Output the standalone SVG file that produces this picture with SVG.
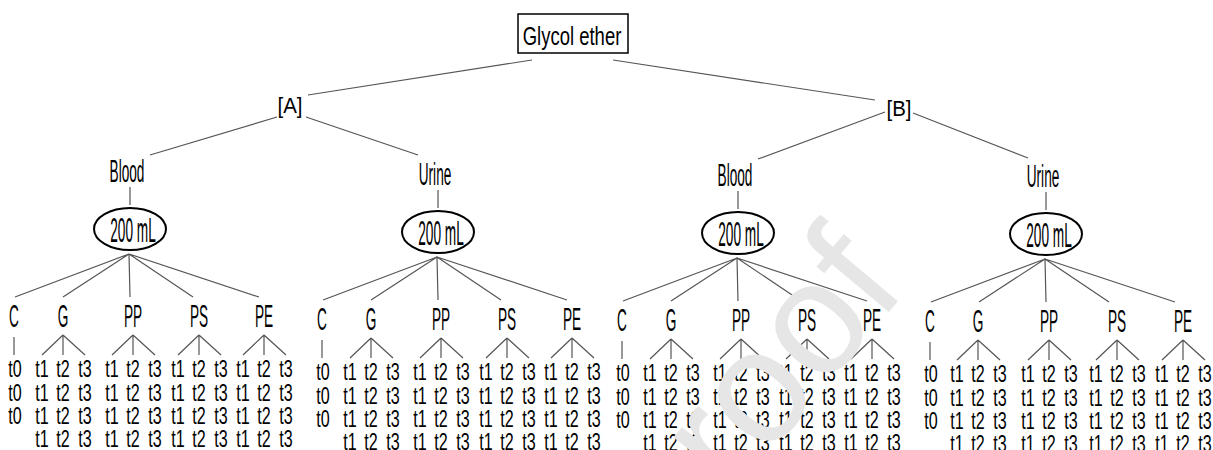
<svg xmlns="http://www.w3.org/2000/svg" width="1213" height="450" viewBox="0 0 1213 450">
<style>
text{font-family:"Liberation Sans",Arial,sans-serif;fill:#000;text-anchor:middle}
.root{font-size:25px;transform:scale(0.74,1)}
.br{font-size:22px;transform:scale(0.93,1)}
.lbl{font-size:31px;transform:scale(0.44,1)}
.vol{font-size:35px;transform:scale(0.39,1)}
.lf{font-size:23px;transform:scale(0.7,1)}
.ln{stroke:#555;stroke-width:1.2;fill:none}
.ell{fill:#fff;stroke:#000;stroke-width:2}
.box{fill:#fff;stroke:#000;stroke-width:1.5}
.wm{font-size:160px;fill:#e6e6e6;text-anchor:start}
</style>
<rect width="1213" height="450" fill="#fff"/>
<g id="connectors">
<path class="ln" d="M532 60L308 95M613 60L875 100M277 117L150 155M306 117L418 155M885 112L758 159M913 113L1028 158"/>
<path class="ln" d="M130 187V205M129 254L15 297M129 254L63 297M129 254L130 297M129 254L193 297M129 254L259 297M14 337V355M63 335L42 355M63 335V355M63 335L85 355M133 335L112 355M133 335V355M133 335L155 355M199 335L178 355M199 335V355M199 335L221 355M264 335L243 355M264 335V355M264 335L286 355"/>
<path class="ln" d="M438 190V208M437 257L323 300M437 257L371 300M437 257L438 300M437 257L501 300M437 257L567 300M322 340V358M371 338L350 358M371 338V358M371 338L393 358M441 338L420 358M441 338V358M441 338L463 358M507 338L486 358M507 338V358M507 338L529 358M572 338L551 358M572 338V358M572 338L594 358"/>
<path class="ln" d="M738 191V209M737 258L623 301M737 258L671 301M737 258L738 301M737 258L801 301M737 258L867 301M622 341V359M671 339L650 359M671 339V359M671 339L693 359M741 339L720 359M741 339V359M741 339L763 359M807 339L786 359M807 339V359M807 339L829 359M872 339L851 359M872 339V359M872 339L894 359"/>
<path class="ln" d="M1046 192V210M1045 259L931 302M1045 259L979 302M1045 259L1046 302M1045 259L1109 302M1045 259L1175 302M930 342V360M978 340L957 360M978 340V360M978 340L1000 360M1049 340L1028 360M1049 340V360M1049 340L1071 360M1117 340L1096 360M1117 340V360M1117 340L1139 360M1183 340L1162 360M1183 340V360M1183 340L1205 360"/>
</g>
<g id="root"><rect class="box" x="518" y="14" width="110" height="39"/><g transform="translate(572,45)"><text class="root">Glycol ether</text></g></g>
<g id="A" transform="translate(290,113)"><text class="br">[A]</text></g>
<g id="B" transform="translate(899,116)"><text class="br">[B]</text></g>

<!-- Tree A Blood -->
<g id="A-blood" transform="translate(127,182)"><text class="lbl">Blood</text></g>
<g id="A-blood-vol" transform="translate(130,229)"><ellipse class="ell" rx="36" ry="21"/><text class="vol" x="7.7" y="12.5">200 mL</text></g>
<g id="A-blood-C" transform="translate(14,327)"><text class="lbl">C</text></g>
<g id="A-blood-G" transform="translate(63,327)"><text class="lbl">G</text></g>
<g id="A-blood-PP" transform="translate(133,327)"><text class="lbl">PP</text></g>
<g id="A-blood-PS" transform="translate(199,327)"><text class="lbl">PS</text></g>
<g id="A-blood-PE" transform="translate(264,327)"><text class="lbl">PE</text></g>
<g id="A-blood-C-t" transform="translate(15,0)"><text class="lf" y="377">t0<tspan x="0" dy="24">t0</tspan><tspan x="0" dy="23">t0</tspan></text></g>
<g id="A-blood-G-t" transform="translate(63,0)"><text class="lf" x="-30" y="377">t1<tspan x="-30" dy="24">t1</tspan><tspan x="-30" dy="23">t1</tspan><tspan x="-30" dy="23">t1</tspan></text><text class="lf" y="377">t2<tspan x="0" dy="24">t2</tspan><tspan x="0" dy="23">t2</tspan><tspan x="0" dy="23">t2</tspan></text><text class="lf" x="31.4" y="377">t3<tspan x="31.4" dy="24">t3</tspan><tspan x="31.4" dy="23">t3</tspan><tspan x="31.4" dy="23">t3</tspan></text></g>
<g id="A-blood-PP-t" transform="translate(133,0)"><text class="lf" x="-30" y="377">t1<tspan x="-30" dy="24">t1</tspan><tspan x="-30" dy="23">t1</tspan><tspan x="-30" dy="23">t1</tspan></text><text class="lf" y="377">t2<tspan x="0" dy="24">t2</tspan><tspan x="0" dy="23">t2</tspan><tspan x="0" dy="23">t2</tspan></text><text class="lf" x="31.4" y="377">t3<tspan x="31.4" dy="24">t3</tspan><tspan x="31.4" dy="23">t3</tspan><tspan x="31.4" dy="23">t3</tspan></text></g>
<g id="A-blood-PS-t" transform="translate(199,0)"><text class="lf" x="-30" y="377">t1<tspan x="-30" dy="24">t1</tspan><tspan x="-30" dy="23">t1</tspan><tspan x="-30" dy="23">t1</tspan></text><text class="lf" y="377">t2<tspan x="0" dy="24">t2</tspan><tspan x="0" dy="23">t2</tspan><tspan x="0" dy="23">t2</tspan></text><text class="lf" x="31.4" y="377">t3<tspan x="31.4" dy="24">t3</tspan><tspan x="31.4" dy="23">t3</tspan><tspan x="31.4" dy="23">t3</tspan></text></g>
<g id="A-blood-PE-t" transform="translate(264,0)"><text class="lf" x="-30" y="377">t1<tspan x="-30" dy="24">t1</tspan><tspan x="-30" dy="23">t1</tspan><tspan x="-30" dy="23">t1</tspan></text><text class="lf" y="377">t2<tspan x="0" dy="24">t2</tspan><tspan x="0" dy="23">t2</tspan><tspan x="0" dy="23">t2</tspan></text><text class="lf" x="31.4" y="377">t3<tspan x="31.4" dy="24">t3</tspan><tspan x="31.4" dy="23">t3</tspan><tspan x="31.4" dy="23">t3</tspan></text></g>

<!-- Tree A Urine -->
<g id="A-urine" transform="translate(435,185)"><text class="lbl">Urine</text></g>
<g id="A-urine-vol" transform="translate(438,232)"><ellipse class="ell" rx="36" ry="21"/><text class="vol" x="7.7" y="12.5">200 mL</text></g>
<g id="A-urine-C" transform="translate(322,330)"><text class="lbl">C</text></g>
<g id="A-urine-G" transform="translate(371,330)"><text class="lbl">G</text></g>
<g id="A-urine-PP" transform="translate(441,330)"><text class="lbl">PP</text></g>
<g id="A-urine-PS" transform="translate(507,330)"><text class="lbl">PS</text></g>
<g id="A-urine-PE" transform="translate(572,330)"><text class="lbl">PE</text></g>
<g id="A-urine-C-t" transform="translate(323,3)"><text class="lf" y="377">t0<tspan x="0" dy="24">t0</tspan><tspan x="0" dy="23">t0</tspan></text></g>
<g id="A-urine-G-t" transform="translate(371,3)"><text class="lf" x="-30" y="377">t1<tspan x="-30" dy="24">t1</tspan><tspan x="-30" dy="23">t1</tspan><tspan x="-30" dy="23">t1</tspan></text><text class="lf" y="377">t2<tspan x="0" dy="24">t2</tspan><tspan x="0" dy="23">t2</tspan><tspan x="0" dy="23">t2</tspan></text><text class="lf" x="31.4" y="377">t3<tspan x="31.4" dy="24">t3</tspan><tspan x="31.4" dy="23">t3</tspan><tspan x="31.4" dy="23">t3</tspan></text></g>
<g id="A-urine-PP-t" transform="translate(441,3)"><text class="lf" x="-30" y="377">t1<tspan x="-30" dy="24">t1</tspan><tspan x="-30" dy="23">t1</tspan><tspan x="-30" dy="23">t1</tspan></text><text class="lf" y="377">t2<tspan x="0" dy="24">t2</tspan><tspan x="0" dy="23">t2</tspan><tspan x="0" dy="23">t2</tspan></text><text class="lf" x="31.4" y="377">t3<tspan x="31.4" dy="24">t3</tspan><tspan x="31.4" dy="23">t3</tspan><tspan x="31.4" dy="23">t3</tspan></text></g>
<g id="A-urine-PS-t" transform="translate(507,3)"><text class="lf" x="-30" y="377">t1<tspan x="-30" dy="24">t1</tspan><tspan x="-30" dy="23">t1</tspan><tspan x="-30" dy="23">t1</tspan></text><text class="lf" y="377">t2<tspan x="0" dy="24">t2</tspan><tspan x="0" dy="23">t2</tspan><tspan x="0" dy="23">t2</tspan></text><text class="lf" x="31.4" y="377">t3<tspan x="31.4" dy="24">t3</tspan><tspan x="31.4" dy="23">t3</tspan><tspan x="31.4" dy="23">t3</tspan></text></g>
<g id="A-urine-PE-t" transform="translate(572,3)"><text class="lf" x="-30" y="377">t1<tspan x="-30" dy="24">t1</tspan><tspan x="-30" dy="23">t1</tspan><tspan x="-30" dy="23">t1</tspan></text><text class="lf" y="377">t2<tspan x="0" dy="24">t2</tspan><tspan x="0" dy="23">t2</tspan><tspan x="0" dy="23">t2</tspan></text><text class="lf" x="31.4" y="377">t3<tspan x="31.4" dy="24">t3</tspan><tspan x="31.4" dy="23">t3</tspan><tspan x="31.4" dy="23">t3</tspan></text></g>

<!-- Tree B Blood -->
<g id="B-blood" transform="translate(735,186)"><text class="lbl">Blood</text></g>
<g id="B-blood-vol" transform="translate(738,233)"><ellipse class="ell" rx="36" ry="21"/><text class="vol" x="7.7" y="12.5">200 mL</text></g>
<g id="B-blood-C" transform="translate(622,331)"><text class="lbl">C</text></g>
<g id="B-blood-G" transform="translate(671,331)"><text class="lbl">G</text></g>
<g id="B-blood-PP" transform="translate(741,331)"><text class="lbl">PP</text></g>
<g id="B-blood-PS" transform="translate(807,331)"><text class="lbl">PS</text></g>
<g id="B-blood-PE" transform="translate(872,331)"><text class="lbl">PE</text></g>
<g id="B-blood-C-t" transform="translate(623,4)"><text class="lf" y="377">t0<tspan x="0" dy="24">t0</tspan><tspan x="0" dy="23">t0</tspan></text></g>
<g id="B-blood-G-t" transform="translate(671,4)"><text class="lf" x="-30" y="377">t1<tspan x="-30" dy="24">t1</tspan><tspan x="-30" dy="23">t1</tspan><tspan x="-30" dy="23">t1</tspan></text><text class="lf" y="377">t2<tspan x="0" dy="24">t2</tspan><tspan x="0" dy="23">t2</tspan><tspan x="0" dy="23">t2</tspan></text><text class="lf" x="31.4" y="377">t3<tspan x="31.4" dy="24">t3</tspan><tspan x="31.4" dy="23">t3</tspan><tspan x="31.4" dy="23">t3</tspan></text></g>
<g id="B-blood-PP-t" transform="translate(741,4)"><text class="lf" x="-30" y="377">t1<tspan x="-30" dy="24">t1</tspan><tspan x="-30" dy="23">t1</tspan><tspan x="-30" dy="23">t1</tspan></text><text class="lf" y="377">t2<tspan x="0" dy="24">t2</tspan><tspan x="0" dy="23">t2</tspan><tspan x="0" dy="23">t2</tspan></text><text class="lf" x="31.4" y="377">t3<tspan x="31.4" dy="24">t3</tspan><tspan x="31.4" dy="23">t3</tspan><tspan x="31.4" dy="23">t3</tspan></text></g>
<g id="B-blood-PS-t" transform="translate(807,4)"><text class="lf" x="-30" y="377">t1<tspan x="-30" dy="24">t1</tspan><tspan x="-30" dy="23">t1</tspan><tspan x="-30" dy="23">t1</tspan></text><text class="lf" y="377">t2<tspan x="0" dy="24">t2</tspan><tspan x="0" dy="23">t2</tspan><tspan x="0" dy="23">t2</tspan></text><text class="lf" x="31.4" y="377">t3<tspan x="31.4" dy="24">t3</tspan><tspan x="31.4" dy="23">t3</tspan><tspan x="31.4" dy="23">t3</tspan></text></g>
<g id="B-blood-PE-t" transform="translate(872,4)"><text class="lf" x="-30" y="377">t1<tspan x="-30" dy="24">t1</tspan><tspan x="-30" dy="23">t1</tspan><tspan x="-30" dy="23">t1</tspan></text><text class="lf" y="377">t2<tspan x="0" dy="24">t2</tspan><tspan x="0" dy="23">t2</tspan><tspan x="0" dy="23">t2</tspan></text><text class="lf" x="31.4" y="377">t3<tspan x="31.4" dy="24">t3</tspan><tspan x="31.4" dy="23">t3</tspan><tspan x="31.4" dy="23">t3</tspan></text></g>

<!-- Tree B Urine -->
<g id="B-urine" transform="translate(1043,187)"><text class="lbl">Urine</text></g>
<g id="B-urine-vol" transform="translate(1046,234)"><ellipse class="ell" rx="36" ry="21"/><text class="vol" x="7.7" y="12.5">200 mL</text></g>
<g id="B-urine-C" transform="translate(930,332)"><text class="lbl">C</text></g>
<g id="B-urine-G" transform="translate(978,332)"><text class="lbl">G</text></g>
<g id="B-urine-PP" transform="translate(1049,332)"><text class="lbl">PP</text></g>
<g id="B-urine-PS" transform="translate(1117,332)"><text class="lbl">PS</text></g>
<g id="B-urine-PE" transform="translate(1183,332)"><text class="lbl">PE</text></g>
<g id="B-urine-C-t" transform="translate(931,5)"><text class="lf" y="377">t0<tspan x="0" dy="24">t0</tspan><tspan x="0" dy="23">t0</tspan></text></g>
<g id="B-urine-G-t" transform="translate(978,5)"><text class="lf" x="-30" y="377">t1<tspan x="-30" dy="24">t1</tspan><tspan x="-30" dy="23">t1</tspan><tspan x="-30" dy="23">t1</tspan></text><text class="lf" y="377">t2<tspan x="0" dy="24">t2</tspan><tspan x="0" dy="23">t2</tspan><tspan x="0" dy="23">t2</tspan></text><text class="lf" x="31.4" y="377">t3<tspan x="31.4" dy="24">t3</tspan><tspan x="31.4" dy="23">t3</tspan><tspan x="31.4" dy="23">t3</tspan></text></g>
<g id="B-urine-PP-t" transform="translate(1049,5)"><text class="lf" x="-30" y="377">t1<tspan x="-30" dy="24">t1</tspan><tspan x="-30" dy="23">t1</tspan><tspan x="-30" dy="23">t1</tspan></text><text class="lf" y="377">t2<tspan x="0" dy="24">t2</tspan><tspan x="0" dy="23">t2</tspan><tspan x="0" dy="23">t2</tspan></text><text class="lf" x="31.4" y="377">t3<tspan x="31.4" dy="24">t3</tspan><tspan x="31.4" dy="23">t3</tspan><tspan x="31.4" dy="23">t3</tspan></text></g>
<g id="B-urine-PS-t" transform="translate(1117,5)"><text class="lf" x="-30" y="377">t1<tspan x="-30" dy="24">t1</tspan><tspan x="-30" dy="23">t1</tspan><tspan x="-30" dy="23">t1</tspan></text><text class="lf" y="377">t2<tspan x="0" dy="24">t2</tspan><tspan x="0" dy="23">t2</tspan><tspan x="0" dy="23">t2</tspan></text><text class="lf" x="31.4" y="377">t3<tspan x="31.4" dy="24">t3</tspan><tspan x="31.4" dy="23">t3</tspan><tspan x="31.4" dy="23">t3</tspan></text></g>
<g id="B-urine-PE-t" transform="translate(1183,5)"><text class="lf" x="-30" y="377">t1<tspan x="-30" dy="24">t1</tspan><tspan x="-30" dy="23">t1</tspan><tspan x="-30" dy="23">t1</tspan></text><text class="lf" y="377">t2<tspan x="0" dy="24">t2</tspan><tspan x="0" dy="23">t2</tspan><tspan x="0" dy="23">t2</tspan></text><text class="lf" x="31.4" y="377">t3<tspan x="31.4" dy="24">t3</tspan><tspan x="31.4" dy="23">t3</tspan><tspan x="31.4" dy="23">t3</tspan></text></g>

<g id="watermark"><text class="wm" transform="translate(674,568) rotate(-50)">proof</text></g>
</svg>
